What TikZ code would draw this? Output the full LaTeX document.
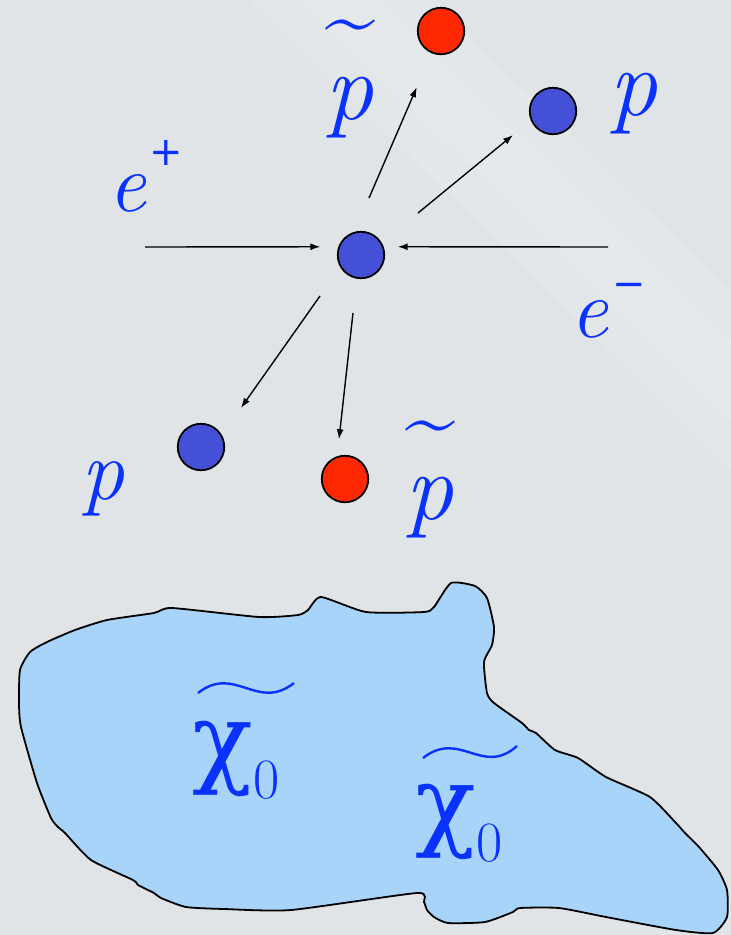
\documentclass[tikz,border=0pt]{standalone}
\usepackage{fontspec}
\newfontfamily\grk{DejaVu Serif}
\newfontfamily\sansf{DejaVu Sans}
\usetikzlibrary{arrows.meta}
\definecolor{bgbase}{RGB}{224,228,231}
\definecolor{txtblue}{RGB}{10,50,255}
\definecolor{ballblue}{RGB}{68,80,216}
\definecolor{ballred}{RGB}{255,40,0}
\definecolor{blobfill}{RGB}{168,212,250}
\begin{document}
\begin{tikzpicture}[x=1pt,y=-1pt,
  ball/.style={circle,draw=black,line width=1.8pt,minimum size=46.5pt,inner sep=0pt},
  bball/.style={ball,fill=ballblue},
  rball/.style={ball,fill=ballred},
  plbl/.style={text=txtblue,inner sep=0pt,font=\fontsize{96}{96}\selectfont\itshape},
  elbl/.style={text=txtblue,inner sep=0pt,anchor=base west,font=\fontsize{84}{84}\selectfont},
  tld/.style={text=txtblue,inner sep=0pt,font=\fontsize{90}{90}\selectfont},
  chilbl/.style={text=txtblue,inner sep=0pt,anchor=base west,font=\fontsize{100}{100}\selectfont},
  wtld/.style={draw=txtblue,line width=2.4pt},
  arr/.style={line width=1.4pt,-{Latex[length=10pt,width=7pt]}},
]
\useasboundingbox (0,0) rectangle (731,935);
\fill[bgbase] (0,0) rectangle (731,935);
\fill[white,opacity=0.12] (250,0) -- (430,0) -- (731,290) -- (731,470) -- cycle;
\fill[white,opacity=0.10] (300,0) -- (380,0) -- (731,340) -- (731,420) -- cycle;

% particles
\node[rball] (r1) at (441,31) {};
\node[bball] (b1) at (553,111) {};
\node[bball] (c) at (361,255) {};
\node[bball] (b2) at (201,447) {};
\node[rball] (r2) at (345,479) {};

% arrows
\coordinate (s1) at (369,198);
\coordinate (s2) at (418,213);
\coordinate (s3) at (320,296);
\coordinate (s4) at (353,313);
\coordinate (s5) at (145,247);
\coordinate (s6) at (608,247);
\draw[arr,shorten >=37pt] (s1) -- (r1);
\draw[arr,shorten >=23pt] (s2) -- (b1.203);
\draw[arr,shorten >=33pt] (s3) -- (b2.30);
\draw[arr,shorten >=17pt] (s4) -- (r2.109);
\draw[arr,shorten >=18pt] (s5) -- (c.160);
\draw[arr,shorten >=14pt] (s6) -- (c.20);

% labels
\node[tld] (t1) at (350.5,34) {\char`\~};
\node[plbl] (p1) at (349,107.5) {p};
\node[plbl] (p2) at (633,103.5) {p};
\node[plbl,font=\fontsize{86}{86}\selectfont\itshape] (p3) at (103,489) {p};
\node[tld] (t2) at (430.5,435) {\char`\~};
\node[plbl] (p4) at (429,507.5) {p};
\node[elbl] (ep) at (108,211) {\itshape e\kern3pt\raisebox{46pt}{\sansf\fontsize{40}{40}\selectfont +}};
\node[elbl] (em) at (570,337) {\itshape e\kern4pt\raisebox{40pt}{\sansf\fontsize{40}{40}\selectfont −}};

% neutralino cloud
\draw[fill=blobfill,line width=1.8pt] plot[smooth cycle,tension=0.35] coordinates {
(172,608) (259,617) (298,615) (308,610) (321,597) (366,612) (424,612) (434,607)
(451,583) (475,586) (487,598) (494,627) (492,645) (484,662) (487,693) (494,703)
(522,723) (529,730) (536,733) (555,750) (578,758) (606,777) (650,797) (676,823)
(685,833) (699,847) (718,870) (727,890) (727,917) (713,933) (676,930) (606,917)
(559,908) (520,908) (513,912) (485,922) (448,923) (434,917) (427,910) (424,902)
(417,893) (291,910) (224,909) (186,907) (161,898) (154,893) (138,885) (133,880)
(91,860) (65,833) (58,827) (51,818) (37,783) (21,727) (19,703) (20,670)
(30,652) (47,642) (75,630) (107,620) (154,613)};

\node[chilbl] (x1) at (192,774) {{\grk χ}\kern1pt\raisebox{-24pt}{\fontsize{57}{57}\selectfont 0}};
\node[chilbl] (x2) at (415,837) {{\grk χ}\kern1pt\raisebox{-24pt}{\fontsize{57}{57}\selectfont 0}};
\draw[wtld] (198,693) .. controls (235,664) and (257,712) .. (294,683);
\draw[wtld] (423,758) .. controls (460,729) and (482,777) .. (517,746);
\end{tikzpicture}
\end{document}
